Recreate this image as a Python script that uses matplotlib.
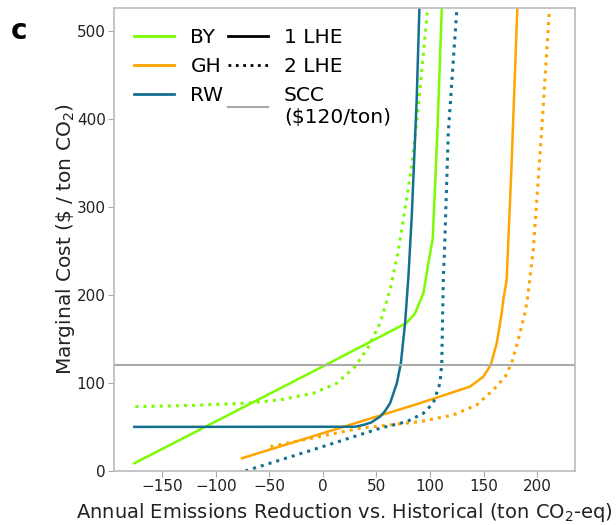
import numpy as np
import matplotlib
matplotlib.use('Agg')
import matplotlib.pyplot as plt

# (reduction, marginal cost)
by1_x = [-176, 2, 78, 86, 93.8, 98.4, 102.5, 106.8, 110.9, 111.2]
by1_y = [8.7, 120, 168, 179, 202, 236, 264, 384, 524, 550]
by2_x = [-175, -120, -70.8, -39.8, -8.8, 13, 30, 42.5, 53.4, 62.7, 70.5, 82.9, 89.1, 97.5, 98.2]
by2_y = [73, 74.5, 77, 80.7, 88.3, 99.7, 118.5, 141, 168, 205.7, 251, 346, 414, 522, 550]

rw1_x = [-176, 30, 37.9, 45, 53.4, 58, 62.7, 69, 72.7, 76.7, 79.8, 82.9, 87.5, 90, 90.3]
rw1_y = [50, 50.2, 52.3, 55, 61.7, 68, 77, 99.7, 122, 168, 221, 289, 421.6, 524, 550]
rw2_x = [-72.4, -12, 53.4, 78.3, 93.8, 103, 106, 109.3, 110.9, 112.4, 113.5, 117, 124.9, 125.3]
rw2_y = [0, 23, 48.5, 56, 65.5, 77, 88, 99.7, 122, 220, 251, 384, 523, 550]

gh1_x = [-75.6, 90.7, 137.3, 149.7, 156.6, 162.2, 166.8, 168.3, 171.5, 176, 181.4, 181.7]
gh1_y = [14.4, 77, 95.8, 107, 120.5, 145, 179, 194, 217, 346, 524, 550]
gh2_x = [-49, 34.8, 90.7, 121.7, 143.5, 159, 170, 176.1, 182.3, 188.5, 190.7, 196.3, 204, 211.2, 211.5]
gh2_y = [27.6, 48.5, 56, 63.6, 75, 92, 107, 122.4, 149, 179, 194, 251, 384, 520, 550]

scc = 120

green = '#7cfc00'
orange = '#ffa500'
teal = '#15708f'

fig = plt.figure(figsize=(6.16, 5.25), dpi=100)
ax = fig.add_axes([0.185, 0.103, 0.748, 0.882])

ax.plot(by1_x, by1_y, '-', color=green, lw=1.8)
ax.plot(by2_x, by2_y, ':', color=green, lw=2.2)
ax.plot(gh1_x, gh1_y, '-', color=orange, lw=1.8)
ax.plot(gh2_x, gh2_y, ':', color=orange, lw=2.2)
ax.plot(rw1_x, rw1_y, '-', color=teal, lw=1.8)
ax.plot(rw2_x, rw2_y, ':', color=teal, lw=2.2)
ax.axhline(scc, color='#aaaaaa', lw=1.5)

ax.set_xlim(-195, 235)
ax.set_ylim(0, 526)
ax.set_xticks([-150, -100, -50, 0, 50, 100, 150, 200])
ax.set_yticks([0, 100, 200, 300, 400, 500])
ax.tick_params(labelsize=11, color='#aaaaaa', length=4, pad=2, labelcolor='#222222')
for s in ax.spines.values():
    s.set_color('#bbbbbb')
    s.set_linewidth(1.2)

ax.set_xlabel('Annual Emissions Reduction vs. Historical (ton CO$_2$-eq)', fontsize=14.0, labelpad=5, color='#222222')
ax.set_ylabel('Marginal Cost (\\$ / ton CO$_2$)', fontsize=14.5, labelpad=0, color='#222222')

h = [
    plt.Line2D([], [], color=green, lw=2),
    plt.Line2D([], [], color=orange, lw=2),
    plt.Line2D([], [], color=teal, lw=2),
    plt.Line2D([], [], color='k', lw=2),
    plt.Line2D([], [], color='k', lw=2, ls=':'),
    plt.Line2D([], [], color='#aaaaaa', lw=1.5),
]
lab = ['BY', 'GH', 'RW', '1 LHE', '2 LHE', 'SCC\n(\\$120/ton)']
ax.legend(h, lab, ncol=2, loc='upper left', frameon=False, fontsize=14.5,
          handlelength=2.0, handletextpad=0.8, columnspacing=0.2,
          labelspacing=0.5, borderaxespad=0.6)

fig.text(0.018, 0.925, 'c', fontsize=20, fontweight='bold')

fig.savefig('out.png', dpi=100)
